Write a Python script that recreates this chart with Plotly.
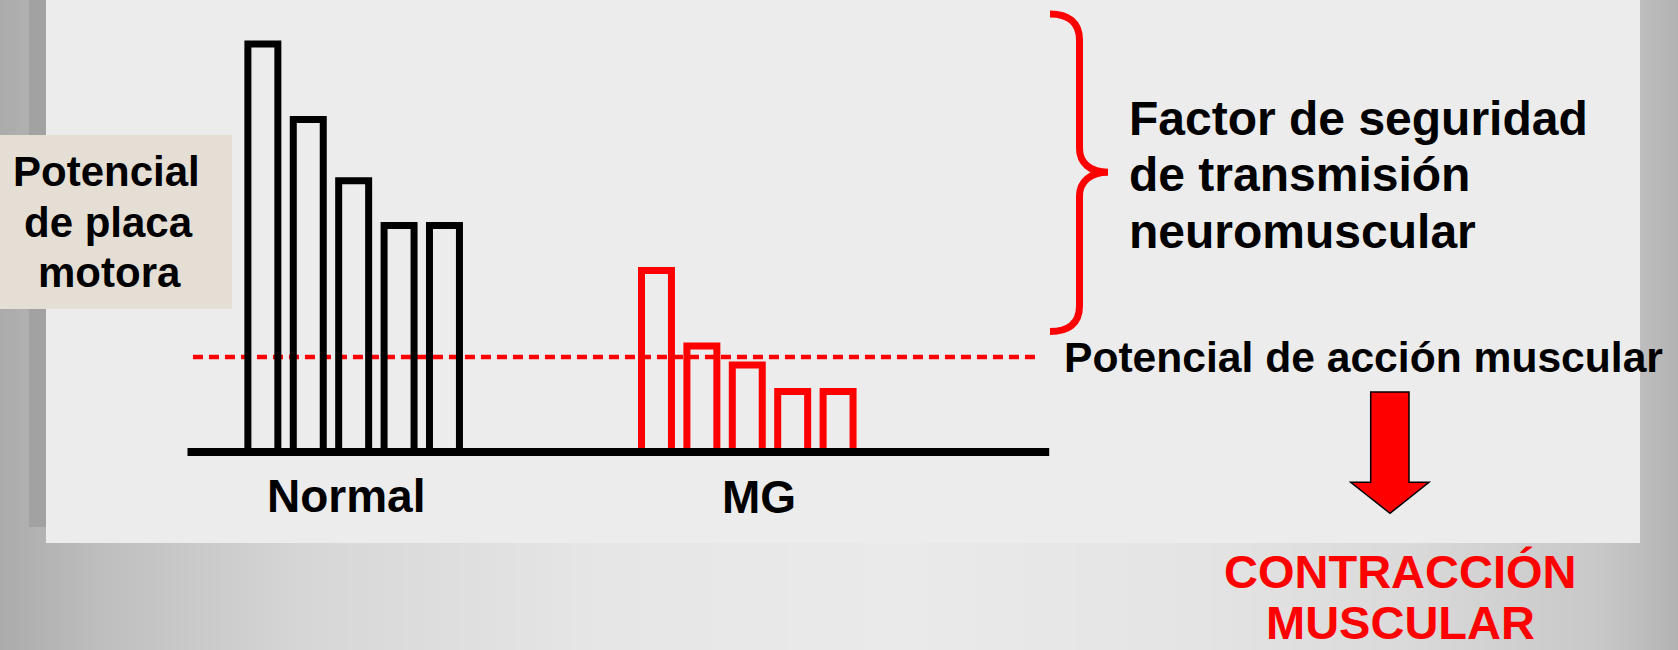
import plotly.graph_objects as go

# ---------------- data ----------------
groups = ["Normal", "MG"]
stimulus = [1, 2, 3, 4, 5]
normal_epp = [100, 81.5, 66.5, 55.5, 55.5]   # potencial de placa motora (Normal)
mg_epp = [44.5, 26, 21.3, 14.8, 14.8]         # potencial de placa motora (MG)
threshold = 23.3                              # umbral: potencial de acción muscular

# background grey levels read across the slide (left -> right)
bg_x = [0, 100, 300, 600, 900, 1200, 1400, 1600, 1640, 1678]
bg_grey = [171, 190, 214, 230, 234, 228, 218, 200, 190, 178]

# ---------------- layout constants ----------------
W, H = 1678, 650
FONT = "Liberation Sans, Arial, sans-serif"
RED = "#FF0000"
group_start = {"Normal": 1.66, "MG": 10.33}
group_color = {"Normal": "#000000", "MG": RED}
bar_w = 0.66
axis_end = 18.98
# data axis mapping: px = 187.5 + 45.4*x ; py = 452 - 4.08*y
x2_range = [(0 - 187.5) / 45.4, (W - 187.5) / 45.4]
y2_range = [(452 - H) / 4.08, 452 / 4.08]

fig = go.Figure()

# ---- background (pixel axis x/y) ----
fig.add_trace(go.Heatmap(
    x=bg_x, y=[0, H], z=[bg_grey, bg_grey],
    zmin=0, zmax=255, zsmooth="best",
    colorscale=[[0, "rgb(0,0,0)"], [1, "rgb(255,255,255)"]],
    showscale=False, hoverinfo="skip", xaxis="x", yaxis="y"))

panels = [
    dict(x0=29, x1=46, y0=0, y1=527, color="#A2A2A2"),
    dict(x0=46, x1=1640, y0=0, y1=543, color="#ECECEC"),
    dict(x0=0, x1=232, y0=135, y1=309, color="#E4DED4"),
]
for p in panels:
    fig.add_trace(go.Scatter(
        x=[p["x0"], p["x1"], p["x1"], p["x0"], p["x0"]],
        y=[p["y0"], p["y0"], p["y1"], p["y1"], p["y0"]],
        mode="lines", fill="toself", fillcolor=p["color"],
        line=dict(width=0), hoverinfo="skip", showlegend=False,
        xaxis="x", yaxis="y"))

# ---- data axis x2/y2 ----
# threshold dashed line
fig.add_trace(go.Scatter(
    x=[0.12, 18.71], y=[threshold, threshold], mode="lines",
    line=dict(color=RED, width=4.5, dash="10px,6px"),
    hoverinfo="skip", showlegend=False, xaxis="x2", yaxis="y2"))

for g, vals in zip(groups, [normal_epp, mg_epp]):
    xs, ys = [], []
    for s, v in zip(stimulus, vals):
        xc = group_start[g] + (s - 1)
        xs += [xc - bar_w / 2, xc - bar_w / 2, xc + bar_w / 2, xc + bar_w / 2, None]
        ys += [0, v, v, 0, None]
    fig.add_trace(go.Scatter(
        x=xs, y=ys, mode="lines", connectgaps=False,
        line=dict(color=group_color[g], width=7),
        hoverinfo="skip", showlegend=False, xaxis="x2", yaxis="y2"))

# baseline
fig.add_trace(go.Scatter(
    x=[0, axis_end], y=[0, 0], mode="lines",
    line=dict(color="#000000", width=8),
    hoverinfo="skip", showlegend=False, xaxis="x2", yaxis="y2"))

# ---- shapes: brace and arrow ----
shapes = [
    dict(type="path", xref="x", yref="y", layer="above",
         path=("M 1050,14 C 1068,14 1079.5,22 1079.5,40 L 1079.5,148 "
               "C 1079.5,163 1090,172.3 1108,172.3 C 1090,172.3 1079.5,182 1079.5,196 "
               "L 1079.5,306 C 1079.5,324 1068,331.5 1050,331.5"),
         line=dict(color=RED, width=7)),
    dict(type="path", xref="x", yref="y", layer="above",
         path=("M 1370.7,392 L 1409,392 L 1409,482.3 L 1429,482.3 L 1390,513.3 "
               "L 1350.7,482.3 L 1370.7,482.3 Z"),
         fillcolor=RED, line=dict(color="#000000", width=1.5)),
]


def label(text, x, baseline, size, color="#000000", anchor="center"):
    return dict(text="<b>%s</b>" % text, x=x, y=baseline - 0.35 * size,
                xref="x", yref="y", xanchor=anchor, yanchor="middle",
                showarrow=False, font=dict(family=FONT, size=size, color=color))


annotations = [
    label("Potencial", 106, 186, 42),
    label("de placa", 108, 237.5, 42),
    label("motora", 109, 287.5, 42),
    label(groups[0], 345.5, 512.5, 46),
    label(groups[1], 759, 513, 46),
    label("Factor de seguridad", 1127, 135, 48, anchor="left"),
    label("de transmisión", 1127, 191.7, 48, anchor="left"),
    label("neuromuscular", 1127, 248.3, 48, anchor="left"),
    label("Potencial de acción muscular", 1062, 371.5, 42.6, anchor="left"),
    label("CONTRACCIÓN", 1400, 588, 47, color=RED),
    label("MUSCULAR", 1400, 639, 47, color=RED),
]

fig.update_layout(
    width=W, height=H, margin=dict(l=0, r=0, t=0, b=0),
    paper_bgcolor="#D0D0D0", plot_bgcolor="rgba(0,0,0,0)",
    showlegend=False, shapes=shapes, annotations=annotations,
    xaxis=dict(range=[0, W], domain=[0, 1], visible=False, fixedrange=True),
    yaxis=dict(range=[H, 0], domain=[0, 1], visible=False, fixedrange=True),
    xaxis2=dict(range=x2_range, domain=[0, 1], overlaying="x", visible=False,
                fixedrange=True),
    yaxis2=dict(range=y2_range, domain=[0, 1], overlaying="y", visible=False,
                fixedrange=True),
)

fig.write_html("out.html", config={"displayModeBar": False, "staticPlot": True},
               post_script="document.body.style.margin='0px';"
                           "document.body.style.overflow='hidden';")
